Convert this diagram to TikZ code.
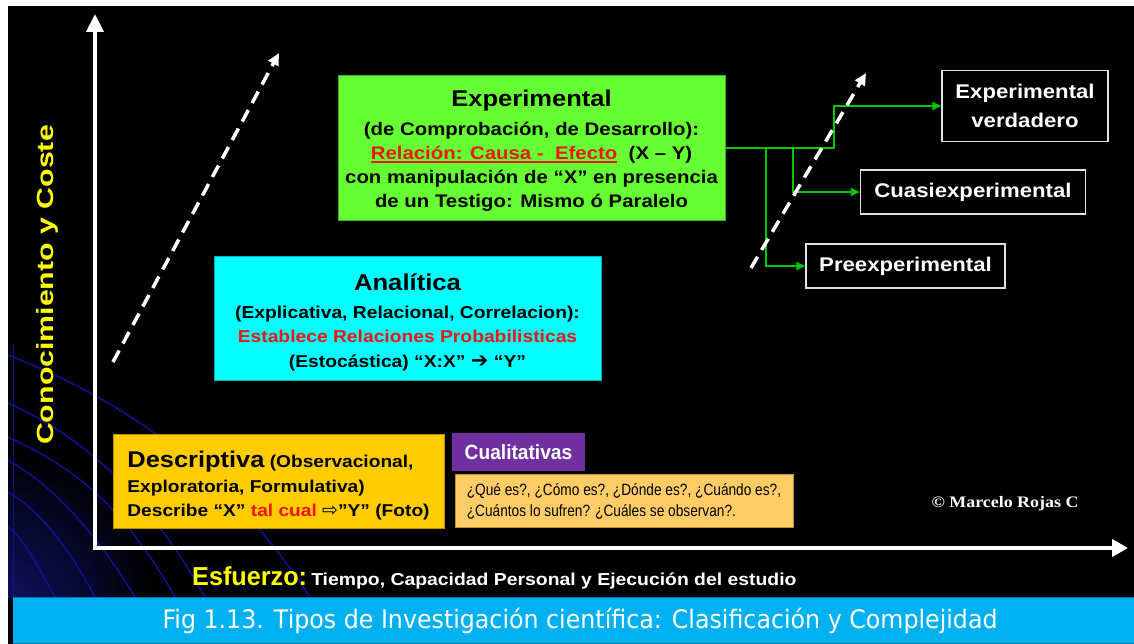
\documentclass[tikz,border=0pt]{standalone}
\usepackage{fontspec}
\setmainfont[FakeStretch=1.12]{Liberation Sans}
\newfontfamily\cualfont[FakeStretch=0.93]{Liberation Sans}
\newfontfamily\qfont[FakeStretch=0.84]{Liberation Sans}
\newfontfamily\ylabfont[FakeStretch=1.3]{Liberation Sans}
\newfontfamily\esffont[FakeStretch=0.97]{Liberation Sans}
\newfontfamily\capfont[FakeStretch=0.93]{DejaVu Sans}
\newfontfamily\symfont{DejaVu Sans}
\newfontfamily\copyfont[FakeStretch=1.12]{Liberation Serif}
\usetikzlibrary{arrows.meta}

\definecolor{expgreen}{RGB}{102,255,51}
\definecolor{expedge}{RGB}{60,170,40}
\definecolor{anacyan}{RGB}{0,255,255}
\definecolor{anaedge}{RGB}{0,170,190}
\definecolor{desgold}{RGB}{255,204,0}
\definecolor{desedge}{RGB}{190,140,0}
\definecolor{cualpurple}{RGB}{112,48,160}
\definecolor{qorange}{RGB}{255,204,102}
\definecolor{qedge}{RGB}{200,140,40}
\definecolor{capblue}{RGB}{0,176,240}
\definecolor{capedge}{RGB}{0,120,180}
\definecolor{conngreen}{RGB}{0,200,0}
\definecolor{ylw}{RGB}{255,255,0}
\definecolor{txtred}{RGB}{240,20,20}
\definecolor{arcblue}{RGB}{16,16,140}
\definecolor{glowblue}{RGB}{16,16,95}
\definecolor{rbedge}{RGB}{225,225,225}

\newcommand\redul[1]{\setbox0\hbox{#1}\rlap{\raisebox{-3.5pt}{\rule{\wd0}{1.6pt}}}\box0}

\begin{document}
\begin{tikzpicture}[x=1pt,y=-1pt,
  boxbase/.style={rectangle, inner sep=0pt},
  boxtext/.style={inner sep=0pt, align=center, text=black},
  rbox/.style={rectangle, inner sep=0pt, align=center, fill=black, draw=rbedge,
    line width=1.5pt, text=white, font=\bfseries\fontsize{19.8}{29}\selectfont},
  conn/.style={conngreen, line width=2pt, -{Triangle[length=9pt,width=8pt]}},
  dasharrow/.style={white, line width=3.5pt, dash pattern=on 13pt off 8pt,
    -{Triangle[length=12pt,width=11pt]}},
  axisline/.style={white, line width=4pt,
    {Triangle[length=18pt,width=17pt]}-{Triangle[length=16pt,width=17pt]}},
  arcline/.style={arcblue, line width=1.6pt}
]
\useasboundingbox (0,0) rectangle (1134,644);
\fill[white] (0,0) rectangle (1134,644);
\fill[black] (8,6) rectangle (1134,644);

% decorative background
\begin{scope}
\clip (8,300) rectangle (420,597);
\shade[inner color=glowblue, outer color=black] (8,600) circle (150pt);
\draw[arcline] (8,355) .. controls (110,395) and (220,460) .. (310,597);
\draw[arcline] (8,403) .. controls (90,440) and (150,500) .. (205,597);
\draw[arcline] (8,437) .. controls (80,470) and (125,510) .. (175,597);
\draw[arcline] (8,460) .. controls (60,490) and (100,540) .. (135,597);
\draw[arcline] (8,492) .. controls (40,510) and (70,550) .. (95,597);
\draw[arcline] (8,527) .. controls (25,540) and (40,570) .. (55,597);
\draw[arcblue, line width=1pt] (13,345) -- (13,597);
\end{scope}

% caption bar
\fill[capblue] (13,597) rectangle (1134,644);
\draw[capedge, line width=1pt] (13,597.5) -- (1134,597.5);
\draw[capedge, line width=1pt] (13,643.5) -- (1134,643.5);

% axes
\coordinate (O) at (95,548);
\coordinate (Ytip) at (95,14);
\coordinate (Xtip) at (1128,548);
\draw[axisline] (Ytip) -- (O) -- (Xtip);

% dashed arrow left
\coordinate (d1s) at (113,362);
\coordinate (d1e) at (279,53);
\draw[dasharrow] (d1s) -- (d1e);

% boxes
\node[boxbase, fill=expgreen, draw=expedge, line width=1pt,
  minimum width=387pt, minimum height=145pt] (exp) at (531.5,148) {};
\node[boxtext, font=\bfseries\fontsize{18.2}{24.2}\selectfont]
  (exptext) at ([yshift=-3pt]exp.center)
  {{\fontsize{22.8}{22.8}\selectfont Experimental}\\[4pt]
   (de Comprobación, de Desarrollo):\\
   {\color{txtred}\redul{Relación: Causa -\ \ Efecto}}\ \ (X – Y)\\
   con manipulación de “X” en presencia\\
   de un Testigo: Mismo ó Paralelo};

\node[boxbase, fill=anacyan, draw=anaedge, line width=1pt,
  minimum width=387pt, minimum height=124pt] (ana) at (407.5,318.5) {};
\node[boxtext, font=\bfseries\fontsize{17.2}{24.5}\selectfont]
  (anatext) at ([yshift=-4pt]ana.center)
  {{\fontsize{22.9}{22.9}\selectfont Analítica}\\[3pt]
   (Explicativa, Relacional, Correlacion):\\
   {\color{txtred}Establece Relaciones Probabilisticas}\\
   (Estocástica) “X:X” {\symfont\mdseries\fontsize{21}{21}\selectfont ➔} “Y”};

\node[boxbase, fill=desgold, draw=desedge, line width=1pt,
  minimum width=331pt, minimum height=94pt] (des) at (278.5,481) {};
\node[boxtext, align=left, font=\bfseries\fontsize{17.1}{24.5}\selectfont]
  (destext) at ([yshift=-5pt]des.center)
  {{\fontsize{22.7}{22.7}\selectfont Descriptiva} (Observacional,\\
   Exploratoria, Formulativa)\\
   Describe “X” {\color{txtred}tal cual} {\symfont\mdseries\fontsize{19}{19}\selectfont ⇨}”Y” (Foto)};

\node[boxbase, fill=cualpurple, text=white,
  minimum width=133pt, minimum height=38pt,
  font=\cualfont\bfseries\fontsize{20.6}{22}\selectfont] (cual) at (518.5,452)
  {Cualitativas};

\node[boxbase, align=left, fill=qorange, draw=qedge, line width=1pt,
  minimum width=338pt, minimum height=53pt,
  font=\qfont\fontsize{16.3}{21}\selectfont] (qs) at (624,501)
  {¿Qué es?, ¿Cómo es?, ¿Dónde es?, ¿Cuándo es?,\\
   ¿Cuántos lo sufren? ¿Cuáles se observan?.};

\node[rbox, minimum width=166pt, minimum height=71pt] (ev) at (1025,106)
  {Experimental\\verdadero};
\node[rbox, minimum width=225pt, minimum height=44pt] (cuasi) at (973,192)
  {Cuasiexperimental};
\node[rbox, minimum width=199pt, minimum height=44pt] (pre) at (905.5,266)
  {Preexperimental};

% connectors
\coordinate (ja) at (766,148);
\coordinate (jb) at (793,148);
\coordinate (jc) at (834,148);
\draw[conn] (exp.east) -- (jc) |- (ev.west);
\draw[conn] (jb) |- (cuasi.west);
\draw[conn] (ja) |- (pre.west);

% dashed arrow right
\coordinate (d2s) at (751,268);
\coordinate (d2e) at (866,73);
\draw[dasharrow] (d2s) -- (d2e);

% labels
\node[text=white, inner sep=0pt, font=\copyfont\bfseries\fontsize{16}{16}\selectfont]
  (copy) at (1005,504) {© Marcelo Rojas C};

\node[rotate=90, anchor=base, inner sep=0pt, text=ylw,
  font=\ylabfont\bfseries\fontsize{23.3}{23.3}\selectfont] (ylab) at (53,285)
  {Conocimiento y Coste};

\node[anchor=base west, inner sep=0pt, text=white] (xlab) at (192,585)
  {{\esffont\bfseries\fontsize{26}{26}\selectfont\color{ylw}Esfuerzo:}
   \bfseries\fontsize{17.3}{20}\selectfont Tiempo, Capacidad Personal y Ejecución del estudio};

\node[text=white, inner sep=0pt, font=\capfont\fontsize{25.5}{25.5}\selectfont]
  (cap) at (580,621)
  {Fig 1.13. Tipos de Investigación científica: Clasificación y Complejidad};
\end{tikzpicture}
\end{document}
